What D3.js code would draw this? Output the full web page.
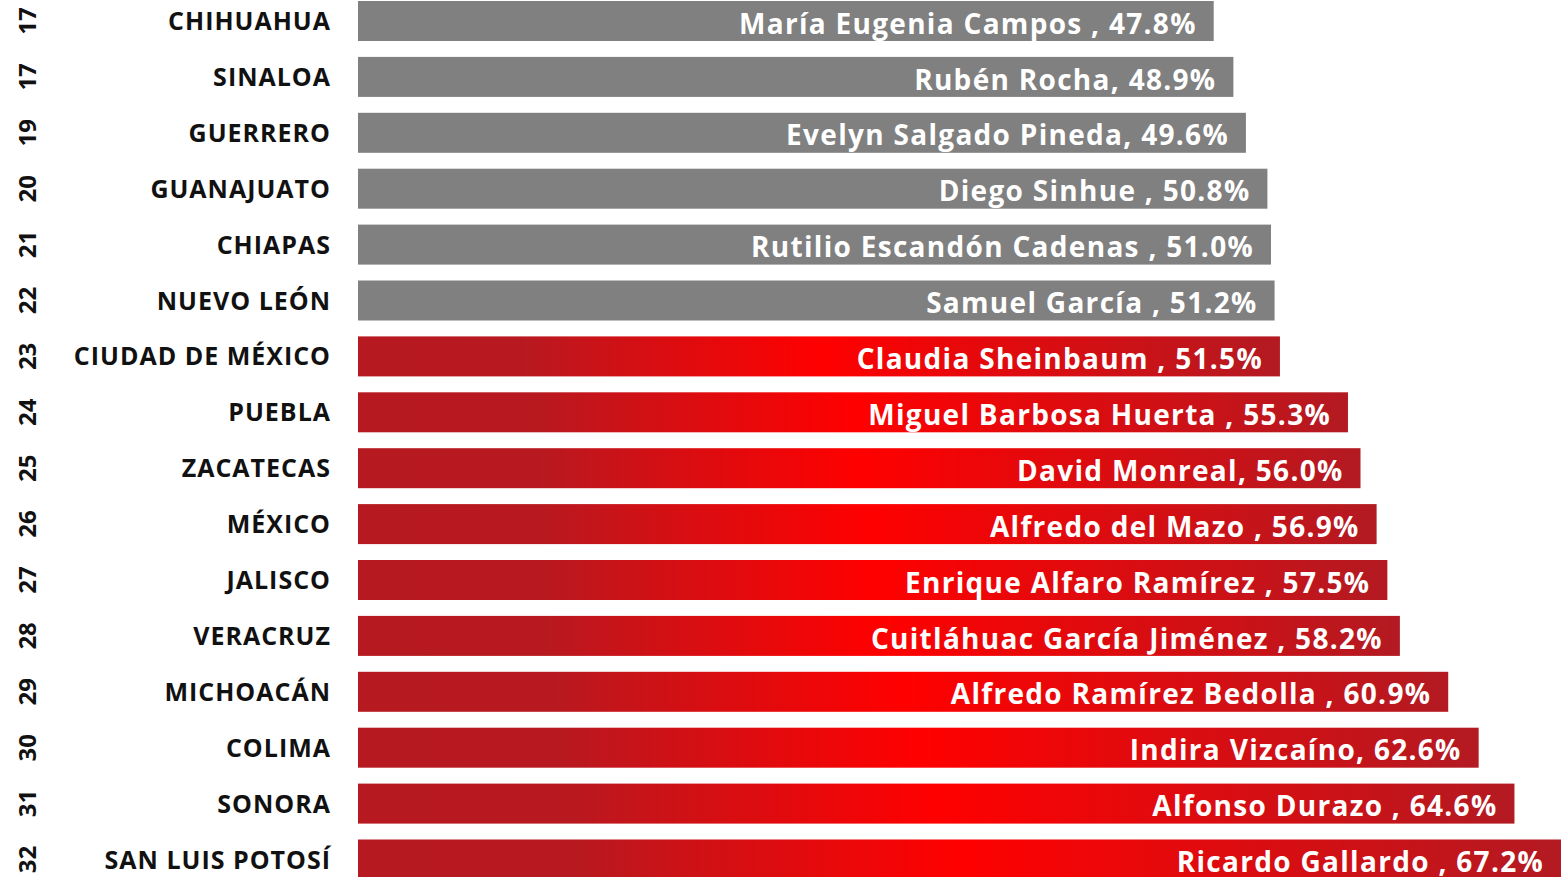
<!DOCTYPE html>
<html>
<head>
<meta charset="utf-8">
<script src="https://cdn.jsdelivr.net/npm/d3@7"></script>
<style>
  body { margin: 0; background: #fff; }
  svg text { font-family: "Open Sans", "DejaVu Sans", sans-serif; font-weight: 700; }
</style>
</head>
<body>
<div class="chart"></div>
<script>
var svgWidth = 1561;
var svgHeight = 877;

// data
var ranks = [17, 17, 19, 20, 21, 22, 23, 24, 25, 26, 27, 28, 29, 30, 31, 32];
var states = ["CHIHUAHUA", "SINALOA", "GUERRERO", "GUANAJUATO", "CHIAPAS", "NUEVO LEÓN",
  "CIUDAD DE MÉXICO", "PUEBLA", "ZACATECAS", "MÉXICO", "JALISCO", "VERACRUZ",
  "MICHOACÁN", "COLIMA", "SONORA", "SAN LUIS POTOSÍ"];
var governors = ["María Eugenia Campos ", "Rubén Rocha", "Evelyn Salgado Pineda", "Diego Sinhue ",
  "Rutilio Escandón Cadenas ", "Samuel García ", "Claudia Sheinbaum ", "Miguel Barbosa Huerta ",
  "David Monreal", "Alfredo del Mazo ", "Enrique Alfaro Ramírez ", "Cuitláhuac García Jiménez ",
  "Alfredo Ramírez Bedolla ", "Indira Vizcaíno", "Alfonso Durazo ", "Ricardo Gallardo "];
var approval = [47.8, 48.9, 49.6, 50.8, 51.0, 51.2, 51.5, 55.3, 56.0, 56.9, 57.5, 58.2, 60.9, 62.6, 64.6, 67.2];
var highlight = [false, false, false, false, false, false, true, true, true, true, true, true, true, true, true, true];

var margin = { top: 1, right: 0, bottom: 0, left: 358 };
var width = svgWidth - margin.left - margin.right;

var rowStep = 55.9;
var barHeight = 40;

var rows = states.map(function(s, i) {
  return {
    state: s,
    rank: ranks[i],
    label: governors[i] + ", " + approval[i].toFixed(1) + "%",
    value: approval[i],
    red: highlight[i]
  };
});

var svg = d3.select(".chart")
  .append("svg")
  .attr("width", svgWidth)
  .attr("height", svgHeight);

// red gradient: dark at the ends, bright in the middle of each bar
var defs = svg.append("defs");
var grad = defs.append("linearGradient")
  .attr("id", "redGrad")
  .attr("x1", "0%").attr("x2", "100%")
  .attr("y1", "0%").attr("y2", "0%");
grad.append("stop").attr("offset", "0%").attr("stop-color", "#b71921");
grad.append("stop").attr("offset", "18%").attr("stop-color", "#b81920");
grad.append("stop").attr("offset", "50%").attr("stop-color", "#ff0000");
grad.append("stop").attr("offset", "100%").attr("stop-color", "#b31a22");

var chartGroup = svg.append("g")
  .attr("transform", `translate(${margin.left}, ${margin.top})`);

var xLinearScale = d3.scaleLinear()
  .domain([0, 67.2])
  .range([0, width]);

var yBandScale = d3.scaleBand()
  .domain(rows.map(d => d.state))
  .range([0, rowStep * (rows.length - 1) + barHeight])
  .paddingInner((rowStep - barHeight) / rowStep)
  .paddingOuter(0);

chartGroup.selectAll(".bar")
  .data(rows)
  .enter()
  .append("rect")
  .attr("class", "bar")
  .attr("x", 0)
  .attr("y", d => yBandScale(d.state))
  .attr("width", d => xLinearScale(d.value))
  .attr("height", yBandScale.bandwidth())
  .attr("fill", d => d.red ? "url(#redGrad)" : "#808080");

// labels inside bars
chartGroup.selectAll(".val")
  .data(rows)
  .enter()
  .append("text")
  .attr("class", "val")
  .attr("x", d => xLinearScale(d.value) - 17)
  .attr("y", d => yBandScale(d.state) + yBandScale.bandwidth() / 2)
  .attr("dy", "0.45em")
  .attr("text-anchor", "end")
  .attr("fill", "#fff")
  .style("font-size", "28px")
  .style("letter-spacing", "1.3px")
  .text(d => d.label);

// state names on the left
chartGroup.selectAll(".state")
  .data(rows)
  .enter()
  .append("text")
  .attr("class", "state")
  .attr("x", -27)
  .attr("y", d => yBandScale(d.state) + yBandScale.bandwidth() / 2)
  .attr("dy", "0.36em")
  .attr("text-anchor", "end")
  .attr("fill", "#111")
  .style("font-size", "25px")
  .style("letter-spacing", "1px")
  .text(d => d.state);

// rank numbers, rotated
svg.selectAll(".rank")
  .data(rows)
  .enter()
  .append("text")
  .attr("class", "rank")
  .attr("transform", d => `translate(27, ${margin.top + yBandScale(d.state) + yBandScale.bandwidth() / 2}) rotate(-90)`)
  .attr("dy", "0.36em")
  .attr("text-anchor", "middle")
  .attr("fill", "#111")
  .style("font-size", "24px")
  .text(d => d.rank);
</script>
</body>
</html>
